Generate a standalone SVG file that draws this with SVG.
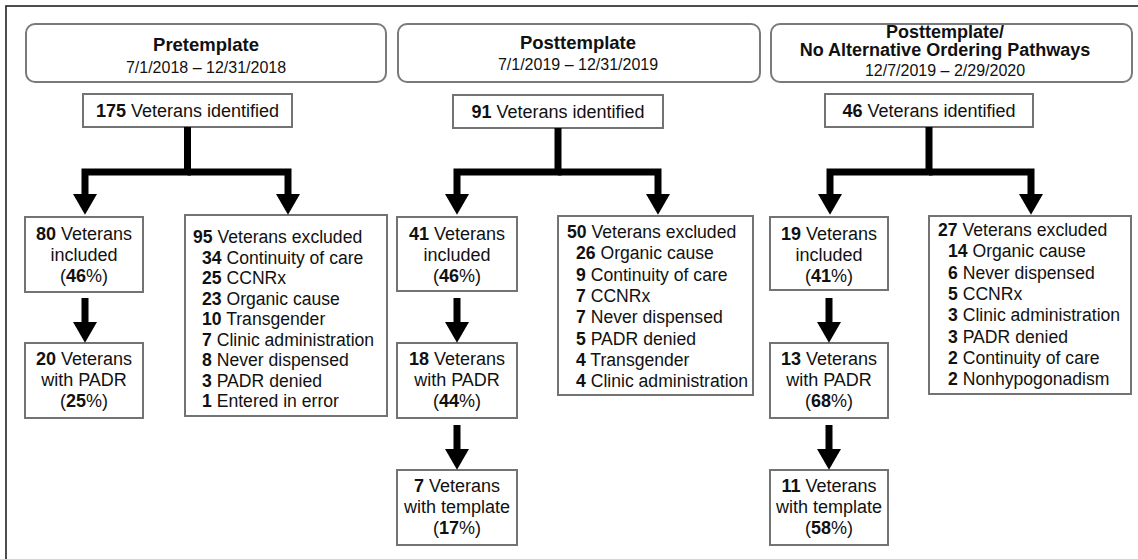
<svg xmlns="http://www.w3.org/2000/svg" width="1138" height="559" viewBox="0 0 1138 559">
<style>
text{font-family:"Liberation Sans",Arial,sans-serif;font-size:18px;fill:#111}
.c{text-anchor:middle}
.b{font-weight:bold}
.h{font-weight:bold;font-size:18.5px}
.d{font-size:16px}
.x text{font-size:17.6px}
.hdr{fill:#fff;stroke:#7a7a7a;stroke-width:2}
.box{fill:#fff;stroke:#737373;stroke-width:2}
.con{fill:none;stroke:#000;stroke-width:7;stroke-linejoin:miter}
</style>
<defs>
<marker id="ah" markerUnits="userSpaceOnUse" markerWidth="22" markerHeight="24" refX="0" refY="11.5" orient="auto" viewBox="0 0 20 23">
<path d="M0,0 L20,11.5 L0,23 z" fill="#000"/>
</marker>
</defs>
<rect x="6" y="6" width="1150" height="570" fill="#fff" stroke="#222" stroke-width="1.6"/>

<g id="hdr1"><rect class="hdr" x="26" y="24" width="360" height="58" rx="9"/>
<text class="c h" x="206" y="51">Pretemplate</text>
<text class="c d" x="206" y="73">7/1/2018 – 12/31/2018</text></g>
<g id="hdr2"><rect class="hdr" x="398" y="24" width="362" height="58" rx="9"/>
<text class="c h" x="578" y="49">Posttemplate</text>
<text class="c d" x="578" y="70">7/1/2019 – 12/31/2019</text></g>
<g id="hdr3"><rect class="hdr" x="771" y="24" width="361" height="58" rx="9"/>
<text class="c b" x="945" y="38">Posttemplate/</text>
<text class="c b" x="945" y="56">No Alternative Ordering Pathways</text>
<text class="c d" x="945" y="76">12/7/2019 – 2/29/2020</text></g>

<g id="id1"><rect class="box" x="83" y="94" width="209" height="33"/>
<text class="c" x="187.5" y="117"><tspan class="b">175</tspan> Veterans identified</text></g>
<g id="id2"><rect class="box" x="453" y="95" width="210" height="33"/>
<text class="c" x="558" y="118"><tspan class="b">91</tspan> Veterans identified</text></g>
<g id="id3"><rect class="box" x="825" y="94" width="208" height="33"/>
<text class="c" x="929" y="117"><tspan class="b">46</tspan> Veterans identified</text></g>

<g id="inc1"><rect class="box" x="25" y="217" width="118" height="75"/>
<text class="c" x="84" y="240"><tspan class="b">80</tspan> Veterans</text>
<text class="c" x="84" y="261">included</text>
<text class="c" x="84" y="282">(<tspan class="b">46</tspan>%)</text></g>
<g id="padr1"><rect class="box" x="25" y="343" width="118" height="75"/>
<text class="c" x="84" y="365"><tspan class="b">20</tspan> Veterans</text>
<text class="c" x="84" y="386">with PADR</text>
<text class="c" x="84" y="407">(<tspan class="b">25</tspan>%)</text></g>
<g id="exc1" class="x"><rect class="box" x="185" y="215" width="202" height="201"/>
<text x="193" y="243"><tspan class="b">95</tspan> Veterans excluded</text>
<text x="202" y="263.5"><tspan class="b">34</tspan> Continuity of care</text>
<text x="202" y="284"><tspan class="b">25</tspan> CCNRx</text>
<text x="202" y="304.5"><tspan class="b">23</tspan> Organic cause</text>
<text x="202" y="325"><tspan class="b">10</tspan> Transgender</text>
<text x="202" y="345.5"><tspan class="b">7</tspan> Clinic administration</text>
<text x="202" y="366"><tspan class="b">8</tspan> Never dispensed</text>
<text x="202" y="386.5"><tspan class="b">3</tspan> PADR denied</text>
<text x="202" y="407"><tspan class="b">1</tspan> Entered in error</text></g>

<g id="inc2"><rect class="box" x="397" y="217" width="120" height="74"/>
<text class="c" x="457" y="240"><tspan class="b">41</tspan> Veterans</text>
<text class="c" x="457" y="261">included</text>
<text class="c" x="457" y="282">(<tspan class="b">46</tspan>%)</text></g>
<g id="padr2"><rect class="box" x="397" y="343" width="120" height="75"/>
<text class="c" x="457" y="365"><tspan class="b">18</tspan> Veterans</text>
<text class="c" x="457" y="386">with PADR</text>
<text class="c" x="457" y="407">(<tspan class="b">44</tspan>%)</text></g>
<g id="tmp2"><rect class="box" x="397" y="470" width="120" height="75"/>
<text class="c" x="457" y="492"><tspan class="b">7</tspan> Veterans</text>
<text class="c" x="457" y="513">with template</text>
<text class="c" x="457" y="534">(<tspan class="b">17</tspan>%)</text></g>
<g id="exc2" class="x"><rect class="box" x="558" y="216" width="195" height="179"/>
<text x="567" y="238"><tspan class="b">50</tspan> Veterans excluded</text>
<text x="576" y="259.3"><tspan class="b">26</tspan> Organic cause</text>
<text x="576" y="280.6"><tspan class="b">9</tspan> Continuity of care</text>
<text x="576" y="301.9"><tspan class="b">7</tspan> CCNRx</text>
<text x="576" y="323.2"><tspan class="b">7</tspan> Never dispensed</text>
<text x="576" y="344.5"><tspan class="b">5</tspan> PADR denied</text>
<text x="576" y="365.8"><tspan class="b">4</tspan> Transgender</text>
<text x="576" y="387.1"><tspan class="b">4</tspan> Clinic administration</text></g>

<g id="inc3"><rect class="box" x="770" y="217" width="118" height="73"/>
<text class="c" x="829" y="240"><tspan class="b">19</tspan> Veterans</text>
<text class="c" x="829" y="261">included</text>
<text class="c" x="829" y="282">(<tspan class="b">41</tspan>%)</text></g>
<g id="padr3"><rect class="box" x="770" y="343" width="118" height="75"/>
<text class="c" x="829" y="365"><tspan class="b">13</tspan> Veterans</text>
<text class="c" x="829" y="386">with PADR</text>
<text class="c" x="829" y="407">(<tspan class="b">68</tspan>%)</text></g>
<g id="tmp3"><rect class="box" x="770" y="470" width="118" height="75"/>
<text class="c" x="829" y="492"><tspan class="b">11</tspan> Veterans</text>
<text class="c" x="829" y="513">with template</text>
<text class="c" x="829" y="534">(<tspan class="b">58</tspan>%)</text></g>
<g id="exc3" class="x"><rect class="box" x="929" y="216" width="202" height="178"/>
<text x="938" y="236"><tspan class="b">27</tspan> Veterans excluded</text>
<text x="948" y="257.3"><tspan class="b">14</tspan> Organic cause</text>
<text x="948" y="278.6"><tspan class="b">6</tspan> Never dispensed</text>
<text x="948" y="299.9"><tspan class="b">5</tspan> CCNRx</text>
<text x="948" y="321.2"><tspan class="b">3</tspan> Clinic administration</text>
<text x="948" y="342.5"><tspan class="b">3</tspan> PADR denied</text>
<text x="948" y="363.8"><tspan class="b">2</tspan> Continuity of care</text>
<text x="948" y="385.1"><tspan class="b">2</tspan> Nonhypogonadism</text></g>

<g id="connectors">
<path class="con" d="M187.5 127 V172 H85 V194" marker-end="url(#ah)"/>
<path class="con" d="M187.5 172 H288 V194" marker-end="url(#ah)"/>
<path class="con" d="M85 298 V322" marker-end="url(#ah)"/>
<path class="con" d="M558 128 V172 H457 V194" marker-end="url(#ah)"/>
<path class="con" d="M558 172 H658 V194" marker-end="url(#ah)"/>
<path class="con" d="M457 298 V322" marker-end="url(#ah)"/>
<path class="con" d="M457 425 V449" marker-end="url(#ah)"/>
<path class="con" d="M929 127 V172 H830 V194" marker-end="url(#ah)"/>
<path class="con" d="M929 172 H1031 V194" marker-end="url(#ah)"/>
<path class="con" d="M829 298 V322" marker-end="url(#ah)"/>
<path class="con" d="M829 425 V449" marker-end="url(#ah)"/>
</g>
</svg>
